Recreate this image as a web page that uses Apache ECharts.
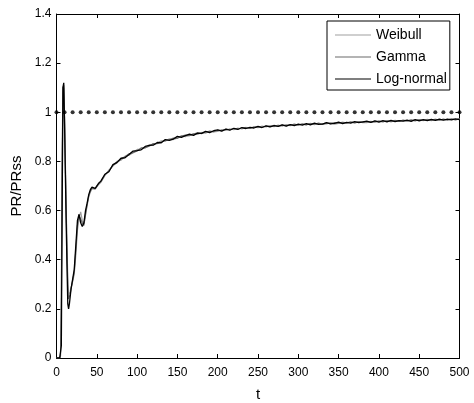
<!DOCTYPE html>
<html>
<head>
<meta charset="utf-8">
<script src="https://cdn.jsdelivr.net/npm/echarts@6/dist/echarts.min.js"></script>
<style>
html,body{margin:0;padding:0;background:#fff;}
#c{width:474px;height:403px;}
</style>
</head>
<body>
<div id="c"></div>
<script>
const T = [0,2,4,5,6,7,8,9,10,11,12,13,14,15,16,17,18,20,22,24,26,28,30,32,34,36,38,40,42,44,46,48,50,52,55,
60,65,70,75,80,85,90,95,100,105,110,115,120,125,130,135,140,145,150,155,160,165,170,175,180,185,190,195,200,
205,210,215,220,225,230,235,240,245,250,255,260,265,270,275,280,285,290,295,300,305,310,315,320,325,330,335,340,345,350,
355,360,365,370,375,380,385,390,395,400,405,410,415,420,425,430,435,440,445,450,455,460,465,470,475,480,485,490,495,500];

const weibull = [0,0,0,0.02,0.3,0.85,1.08,1.1,0.98,0.8,0.62,0.46,0.33,0.27,0.26,0.27,0.285,0.31,0.34,0.42,0.52,0.57,0.595,0.56,0.545,0.58,0.62,0.655,0.675,0.69,0.692,0.688,0.69,0.705,0.715,
.742,.765,.781,.800,.805,.821,.825,.835,.849,.850,.855,.867,.868,.872,.884,.882,.892,.889,.895,.904,.901,.906,.913,.910,.918,.915,.924,.920,.922,
.930,.926,.933,.929,.936,.932,.939,.934,.941,.937,.944,.940,.946,.941,.948,.943,.950,.945,.952,.947,.953,.948,.955,.950,.956,.951,.953,.958,.952,.955,
.960,.956,.961,.956,.962,.958,.958,.963,.959,.965,.961,.966,.961,.967,.963,.968,.964,.969,.965,.970,.966,.971,.966,.972,.967,.972,.968,.973,.969,.974];

const gamma = [0,0,0,0.01,0.2,0.75,1.1,1.11,0.97,0.78,0.6,0.43,0.29,0.24,0.245,0.26,0.28,0.315,0.35,0.44,0.54,0.58,0.585,0.55,0.54,0.585,0.625,0.66,0.68,0.69,0.69,0.688,0.692,0.708,0.718,
.745,.761,.784,.794,.810,.819,.831,.836,.843,.855,.856,.862,.873,.874,.878,.887,.888,.895,.894,.903,.907,.905,.911,.916,.913,.920,.922,.921,.927,
.925,.932,.929,.934,.932,.936,.937,.935,.940,.942,.939,.944,.942,.947,.944,.948,.946,.949,.951,.949,.952,.950,.954,.952,.955,.953,.956,.954,.958,.956,
.958,.957,.960,.958,.961,.959,.962,.960,.963,.963,.962,.965,.963,.966,.964,.967,.965,.968,.966,.969,.967,.969,.968,.970,.969,.971,.969,.972,.970,.972];

const lognormal = [0,0,0,0,0.05,0.6,1.1,1.12,0.95,0.75,0.55,0.38,0.22,0.20,0.22,0.25,0.28,0.32,0.36,0.46,0.56,0.585,0.55,0.535,0.55,0.60,0.63,0.665,0.685,0.695,0.692,0.69,0.695,0.71,0.72,
.748,.758,.787,.796,.813,.815,.828,.842,.844,.847,.861,.865,.866,.877,.876,.889,.886,.891,.902,.898,.905,.911,.906,.915,.914,.922,.917,.925,.928,
.923,.931,.927,.935,.930,.938,.934,.939,.936,.943,.938,.945,.941,.946,.943,.949,.944,.950,.946,.952,.948,.954,.949,.956,.951,.952,.958,.953,.955,.960,
.954,.959,.956,.962,.958,.961,.964,.959,.965,.960,.966,.961,.967,.962,.966,.964,.968,.963,.970,.965,.970,.966,.971,.967,.972,.968,.972,.969,.973,.970];

const REF_T = [0,10,20,30,40,50,60,70,80,90,100,110,120,130,140,150,160,170,180,190,200,210,220,230,240,250,260,270,280,290,300,
310,320,330,340,350,360,370,380,390,400,410,420,430,440,450,460,470,480,490,500];
const REF_LEVEL = 1;

const X_TICKS = [0,50,100,150,200,250,300,350,400,450,500];
const Y_TICKS = [0,0.2,0.4,0.6,0.8,1,1.2,1.4];

const FONT = "'Liberation Sans', Arial, sans-serif";
const pair = v => T.map((t,i)=>[t, v[i]]);

const axisCommon = {
  type:'value',
  axisLine:{show:true,onZero:false,lineStyle:{color:'#000',width:1}},
  axisTick:{show:true,inside:true,length:4,lineStyle:{color:'#000'}},
  splitLine:{show:false}
};

const chart = echarts.init(document.getElementById('c'), null, {renderer:'canvas'});
chart.setOption({
  animation:false,
  backgroundColor:'#fff',
  textStyle:{fontFamily:FONT},
  grid:{left:56.5,right:14.5,top:14,bottom:45,containLabel:false,outerBoundsMode:'none'},
  xAxis:[
    Object.assign({}, axisCommon, {
      position:'bottom', min:X_TICKS[0], max:X_TICKS[X_TICKS.length-1], interval:X_TICKS[1]-X_TICKS[0],
      axisLabel:{color:'#000',fontSize:12,margin:9,fontFamily:FONT},
      name:'t', nameLocation:'middle', nameGap:29,
      nameTextStyle:{color:'#000',fontSize:15,fontFamily:FONT}
    }),
    Object.assign({}, axisCommon, {
      position:'top', min:X_TICKS[0], max:X_TICKS[X_TICKS.length-1], interval:X_TICKS[1]-X_TICKS[0],
      axisLabel:{show:false}
    })
  ],
  yAxis:[
    Object.assign({}, axisCommon, {
      position:'left', min:Y_TICKS[0], max:Y_TICKS[Y_TICKS.length-1], interval:Y_TICKS[1]-Y_TICKS[0],
      axisLabel:{color:'#000',fontSize:12,margin:5,fontFamily:FONT,formatter:v=>String(+v.toFixed(1))},
      name:'PR/PRss', nameLocation:'middle', nameGap:22,
      nameTextStyle:{color:'#000',fontSize:15,fontFamily:FONT}
    }),
    Object.assign({}, axisCommon, {
      position:'right', min:Y_TICKS[0], max:Y_TICKS[Y_TICKS.length-1], interval:Y_TICKS[1]-Y_TICKS[0],
      axisLabel:{show:false}
    })
  ],
  legend:{
    orient:'vertical', left:327, top:21,
    padding:[7,3,4,8], itemGap:8, itemWidth:36, itemHeight:1, icon:'rect',
    backgroundColor:'#fff', borderColor:'#000', borderWidth:1, borderRadius:0,
    textStyle:{color:'#000',fontSize:14,fontFamily:FONT,lineHeight:13.5},
    data:['Weibull','Gamma','Log-normal']
  },
  series:[
    {name:'Weibull',type:'line',symbol:'none',data:pair(weibull),lineStyle:{color:'#a0a0a0',width:1.2},itemStyle:{color:'#a0a0a0'},z:2},
    {name:'Gamma',type:'line',symbol:'none',data:pair(gamma),lineStyle:{color:'#6a6a6a',width:1.2},itemStyle:{color:'#6a6a6a'},z:3},
    {name:'Log-normal',type:'line',symbol:'none',data:pair(lognormal),lineStyle:{color:'#000',width:1.3},itemStyle:{color:'#000'},z:4},
    {name:'ref',type:'scatter',symbol:'circle',symbolSize:4,data:REF_T.map(t=>[t,REF_LEVEL]),itemStyle:{color:'#000'},z:5,silent:true}
  ]
});
</script>
</body>
</html>
